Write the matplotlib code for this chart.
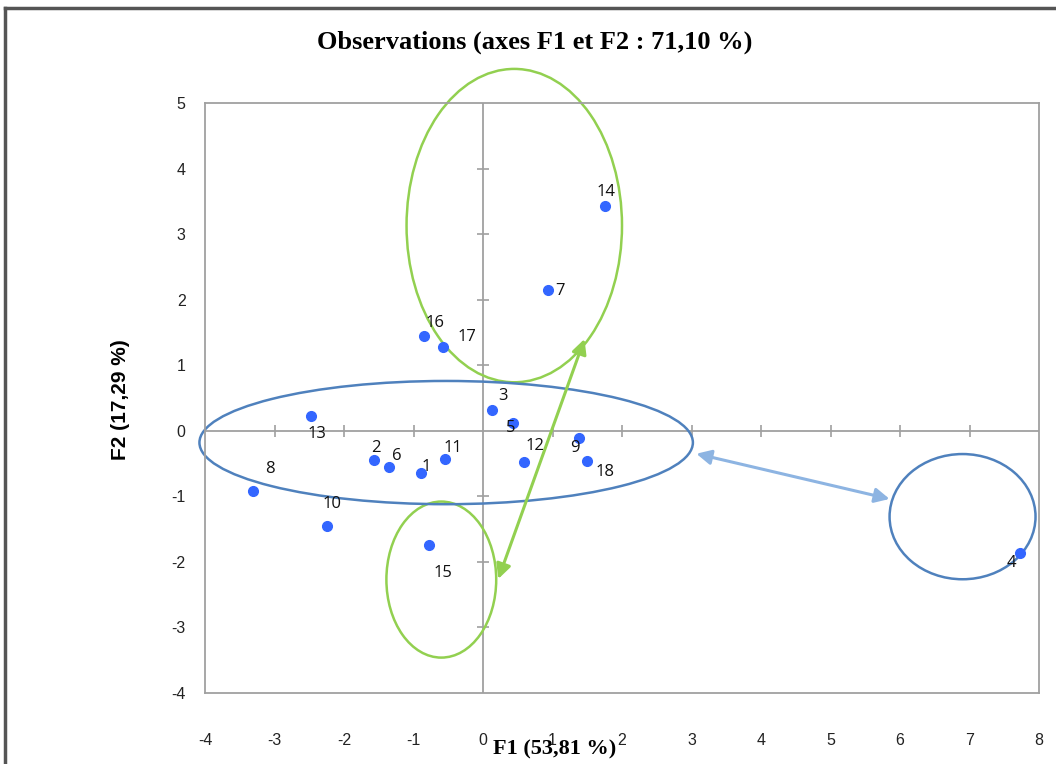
import matplotlib
matplotlib.use('Agg')
import matplotlib.pyplot as plt
from matplotlib.patches import Ellipse
from matplotlib.lines import Line2D
import numpy as np

plt.rcParams['axes.unicode_minus'] = False

# factor scores of the 18 observations
obs = ['1', '2', '3', '4', '5', '6', '7', '8', '9', '10', '11', '12', '13', '14', '15', '16', '17', '18']
f1 = [-0.89, -1.57, 0.13, 7.72, 0.43, -1.35, 0.94, -3.31, 1.38, -2.25, -0.55, 0.59, -2.48, 1.76, -0.78, -0.85, -0.58, 1.50]
f2 = [-0.64, -0.44, 0.32, -1.86, 0.12, -0.55, 2.14, -0.92, -0.11, -1.45, -0.43, -0.47, 0.23, 3.43, -1.74, 1.45, 1.28, -0.46]

xticks = [-4, -3, -2, -1, 0, 1, 2, 3, 4, 5, 6, 7, 8]
yticks = [-4, -3, -2, -1, 0, 1, 2, 3, 4, 5]

# label offsets in pixels
offs = {'1': (5, 6), '2': (2, 12), '3': (11, 14), '4': (-8, -10), '5': (-2, -5),
        '6': (8, 11), '7': (12, -1), '8': (17, 22), '9': (-4, -10), '10': (5, 22),
        '11': (8, 11), '12': (11, 16), '13': (6, -18), '14': (1, 14), '15': (14, -28),
        '16': (11, 13), '17': (24, 10), '18': (18, -11)}

green = '#92D050'
blue = '#4F81BD'
lblue = '#8DB4E2'
grey = '#A0A0A0'

fig = plt.figure(figsize=(10.56, 7.64), dpi=100)
ax = fig.add_axes([205/1056, 1-693/764, 834/1056, 590/764])
ax.set_xlim(-4, 8)
ax.set_ylim(-4, 5)
for s in ax.spines.values():
    s.set_color(grey)
    s.set_linewidth(1.3)

ax.set_xticks(xticks)
ax.set_yticks(yticks)
ax.tick_params(length=0, labelsize=11.5, colors='#222222')
ax.tick_params(axis='x', pad=29)
ax.tick_params(axis='y', pad=14)
for t in ax.get_xticklabels() + ax.get_yticklabels():
    t.set_fontfamily('Liberation Sans')

# axes through origin with cross ticks
ax.axhline(0, color=grey, lw=1.3, zorder=1)
ax.axvline(0, color=grey, lw=1.3, zorder=1)
xt = [v for v in xticks if v not in (-4, 0, 8)]
yt = [v for v in yticks if v not in (-4, 0, 5)]
ax.plot(xt, np.zeros(len(xt)), ls='none', marker='|', ms=9, mew=1.2, color=grey, zorder=1)
ax.plot(np.zeros(len(yt)), yt, ls='none', marker='_', ms=9, mew=1.2, color=grey, zorder=1)

ax.plot(f1, f2, ls='none', marker='o', ms=7, color='#3366FF', mec='#3366FF', zorder=3)
for name, x, y in zip(obs, f1, f2):
    ax.annotate(name, (x, y), xytext=offs[name], textcoords='offset pixels',
                ha='center', va='center', fontsize=12, family='Open Sans', color='#111111', zorder=4)

# groups
for (cx, cy, w, h, c) in [(0.45, 3.13, 3.10, 4.78, green), (-0.60, -2.27, 1.58, 2.38, green),
                          (-0.53, -0.18, 7.10, 1.88, blue), (6.90, -1.31, 2.10, 1.91, blue)]:
    ax.add_patch(Ellipse((cx, cy), w, h, fill=False, ec=c, lw=1.8, clip_on=False, zorder=2))

ax.annotate('', xy=(1.46, 1.40), xytext=(0.22, -2.26),
            arrowprops=dict(arrowstyle='<|-|>', color=green, lw=2.2, mutation_scale=22, shrinkA=0, shrinkB=0))
ax.annotate('', xy=(5.85, -1.04), xytext=(3.07, -0.35),
            arrowprops=dict(arrowstyle='<|-|>', color=lblue, lw=2.2, mutation_scale=22, shrinkA=0, shrinkB=0))

fig.text(535/1056, 1-42/764, 'Observations (axes F1 et F2 : 71,10 %)', ha='center', va='center',
         fontsize=19, fontweight='bold', family='Liberation Serif')
fig.text(120/1056, 1-400/764, 'F2 (17,29 %)', rotation=90, ha='center', va='center',
         fontsize=15, fontweight='bold', family='Liberation Sans')
fig.text(493/1056, 1-749/764, 'F1 (53,81 %)', ha='left', va='center',
         fontsize=16, fontweight='bold', family='Liberation Serif')

# outer frame
fig.add_artist(Line2D([5/1056, 5/1056], [0, 1-8/764], transform=fig.transFigure, color='#555555', lw=2.5))
fig.add_artist(Line2D([5/1056, 1], [1-8/764, 1-8/764], transform=fig.transFigure, color='#555555', lw=2.5))

fig.savefig('out.png', dpi=100)
